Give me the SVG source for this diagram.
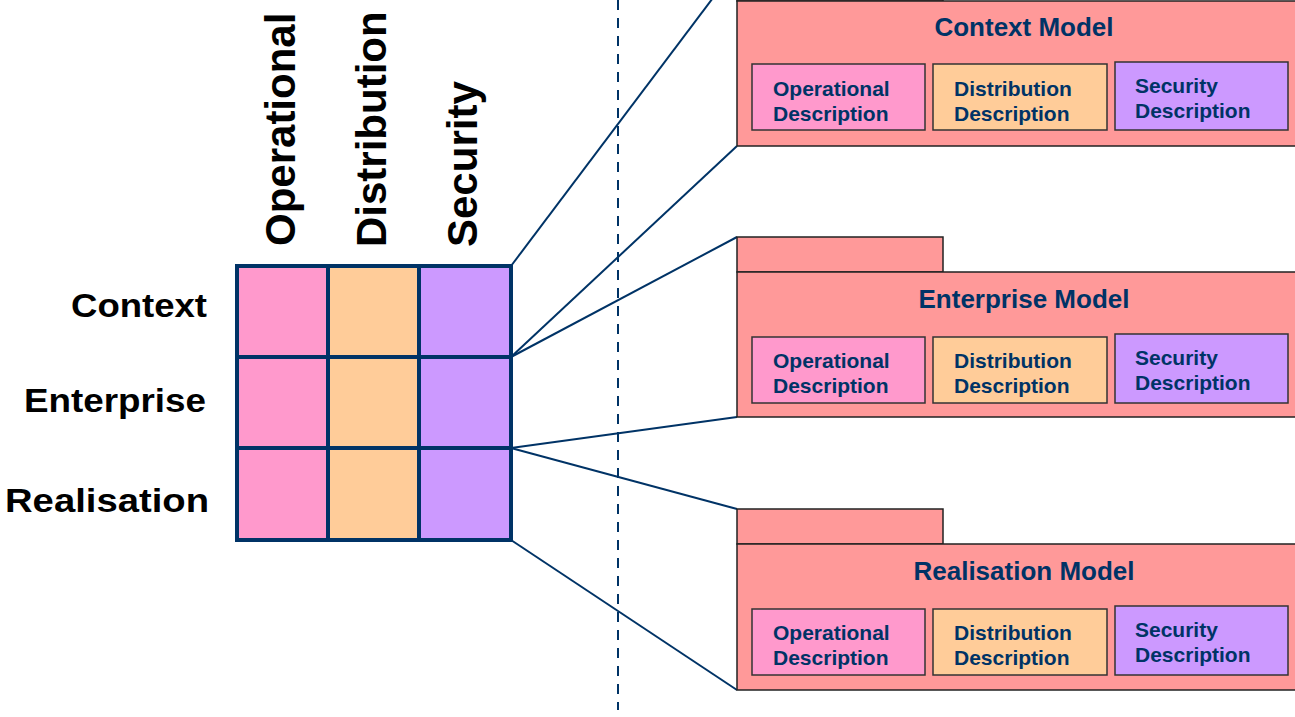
<svg xmlns="http://www.w3.org/2000/svg" width="1295" height="717" viewBox="0 0 1295 717">
  <style>
    .pkg { fill: #FF9999; stroke: #222222; stroke-width: 1.5; }
    .op { fill: #FF99CC; stroke: #333333; stroke-width: 1.5; }
    .di { fill: #FFCC99; stroke: #333333; stroke-width: 1.5; }
    .se { fill: #CC99FF; stroke: #333333; stroke-width: 1.5; }
    .title { font-family: "Liberation Sans", Arial, sans-serif; font-weight: bold; font-size: 26px; fill: #003366; text-anchor: middle; }
    .desc { font-family: "Liberation Sans", Arial, sans-serif; font-weight: bold; font-size: 21px; fill: #003366; }
    .lbl { font-family: "Liberation Sans", Arial, sans-serif; font-weight: bold; font-size: 33px; fill: #000000; text-anchor: end; }
    .vlbl { font-family: "Liberation Sans", Arial, sans-serif; font-weight: bold; font-size: 42px; fill: #000000; }
    .conn { stroke: #003366; stroke-width: 2; fill: none; }
    .cell-op { fill: #FF99CC; }
    .cell-di { fill: #FFCC99; }
    .cell-se { fill: #CC99FF; }
  </style>
  <rect width="1295" height="717" fill="#ffffff"/>

  <g id="connectors">
    <line class="conn" x1="618" y1="0" x2="618" y2="710" stroke-dasharray="10 8"/>
    <line class="conn" x1="511" y1="266" x2="737" y2="-34"/>
    <line class="conn" x1="511" y1="357" x2="737" y2="146"/>
    <line class="conn" x1="511" y1="357" x2="737" y2="237"/>
    <line class="conn" x1="511" y1="448" x2="737" y2="417"/>
    <line class="conn" x1="511" y1="448" x2="737" y2="509"/>
    <line class="conn" x1="511" y1="540" x2="737" y2="690"/>
  </g>

  <g id="row-labels">
    <text class="lbl" x="207" y="317" textLength="136" lengthAdjust="spacingAndGlyphs">Context</text>
    <text class="lbl" x="206" y="412" textLength="182" lengthAdjust="spacingAndGlyphs">Enterprise</text>
    <text class="lbl" x="209" y="512" textLength="204" lengthAdjust="spacingAndGlyphs">Realisation</text>
  </g>

  <g id="column-labels">
    <text class="vlbl" transform="translate(295,246) rotate(-90)">Operational</text>
    <text class="vlbl" transform="translate(386,247) rotate(-90)">Distribution</text>
    <text class="vlbl" transform="translate(477,247) rotate(-90)">Security</text>
  </g>

  <g id="grid">
    <rect class="cell-op" x="237" y="266" width="91" height="91"/>
    <rect class="cell-di" x="328" y="266" width="91" height="91"/>
    <rect class="cell-se" x="419" y="266" width="92" height="91"/>
    <rect class="cell-op" x="237" y="357" width="91" height="91"/>
    <rect class="cell-di" x="328" y="357" width="91" height="91"/>
    <rect class="cell-se" x="419" y="357" width="92" height="91"/>
    <rect class="cell-op" x="237" y="448" width="91" height="92"/>
    <rect class="cell-di" x="328" y="448" width="91" height="92"/>
    <rect class="cell-se" x="419" y="448" width="92" height="92"/>
    <g stroke="#003366" stroke-width="4" fill="none">
      <rect x="237" y="266" width="274" height="274"/>
      <line x1="328" y1="266" x2="328" y2="540"/>
      <line x1="419" y1="266" x2="419" y2="540"/>
      <line x1="237" y1="357" x2="511" y2="357"/>
      <line x1="237" y1="448" x2="511" y2="448"/>
    </g>
  </g>

  <g id="context-model">
    <rect class="pkg" x="737" y="-34" width="206" height="35"/>
    <rect class="pkg" x="737" y="1" width="570" height="145"/>
    <text class="title" x="1024" y="36">Context Model</text>
    <rect class="op" x="752" y="64" width="173" height="66"/>
    <text class="desc"><tspan x="773" y="96">Operational</tspan><tspan x="773" y="121">Description</tspan></text>
    <rect class="di" x="933" y="64" width="174" height="66"/>
    <text class="desc"><tspan x="954" y="96">Distribution</tspan><tspan x="954" y="121">Description</tspan></text>
    <rect class="se" x="1115" y="62" width="173" height="68"/>
    <text class="desc"><tspan x="1135" y="93">Security</tspan><tspan x="1135" y="118">Description</tspan></text>
  </g>

  <g id="enterprise-model">
    <rect class="pkg" x="737" y="237" width="206" height="35"/>
    <rect class="pkg" x="737" y="272" width="570" height="145"/>
    <text class="title" x="1024" y="308">Enterprise Model</text>
    <rect class="op" x="752" y="337" width="173" height="66"/>
    <text class="desc"><tspan x="773" y="368">Operational</tspan><tspan x="773" y="393">Description</tspan></text>
    <rect class="di" x="933" y="337" width="174" height="66"/>
    <text class="desc"><tspan x="954" y="368">Distribution</tspan><tspan x="954" y="393">Description</tspan></text>
    <rect class="se" x="1115" y="334" width="173" height="69"/>
    <text class="desc"><tspan x="1135" y="365">Security</tspan><tspan x="1135" y="390">Description</tspan></text>
  </g>

  <g id="realisation-model">
    <rect class="pkg" x="737" y="509" width="206" height="35"/>
    <rect class="pkg" x="737" y="544" width="570" height="146"/>
    <text class="title" x="1024" y="580">Realisation Model</text>
    <rect class="op" x="752" y="609" width="173" height="66"/>
    <text class="desc"><tspan x="773" y="640">Operational</tspan><tspan x="773" y="665">Description</tspan></text>
    <rect class="di" x="933" y="609" width="174" height="66"/>
    <text class="desc"><tspan x="954" y="640">Distribution</tspan><tspan x="954" y="665">Description</tspan></text>
    <rect class="se" x="1115" y="606" width="173" height="69"/>
    <text class="desc"><tspan x="1135" y="637">Security</tspan><tspan x="1135" y="662">Description</tspan></text>
  </g>
</svg>
